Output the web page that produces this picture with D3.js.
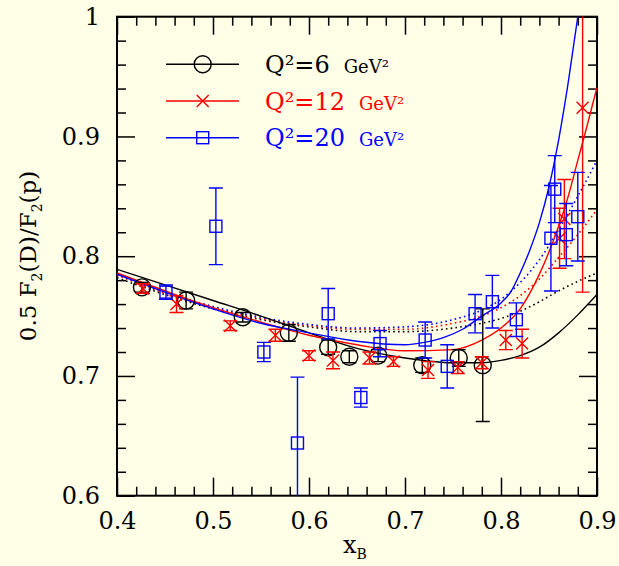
<!DOCTYPE html>
<html><head><meta charset="utf-8">
<script src="https://cdn.jsdelivr.net/npm/d3@7"></script>
<style>html,body{margin:0;padding:0;background:#fffee6;}svg{display:block;}</style>
</head><body>
<script>
// ---- data ----
const q6X   = [0.426,0.472,0.531,0.579,0.620,0.642,0.672,0.718,0.756,0.781];
const q6Y   = [0.774,0.763,0.749,0.736,0.724,0.716,0.717,0.709,0.715,0.709];
const q6E   = [0.004,0.007,0.004,0.007,0.006,0.005,0.005,0.006,0.007,0.047];

const q12X  = [0.427,0.462,0.518,0.565,0.600,0.625,0.663,0.688,0.724,0.755,0.780,0.805,0.822,0.861,0.866,0.885];
const q12Y  = [0.773,0.760,0.742,0.734,0.717,0.713,0.715,0.712,0.705,0.707,0.711,0.730,0.727,0.815,0.831,0.924];
const q12E  = [0.004,0.007,0.004,0.005,0.004,0.007,0.005,0.004,0.007,0.005,0.005,0.008,0.012,0.025,0.033,0.154];

const q20X  = [0.451,0.503,0.553,0.588,0.620,0.654,0.674,0.721,0.744,0.773,0.791,0.816,0.852,0.856,0.868,0.880];
const q20Y  = [0.770,0.825,0.720,0.644,0.752,0.682,0.727,0.730,0.708,0.752,0.762,0.747,0.815,0.856,0.818,0.833];
const q20E  = [0.006,0.032,0.008,0.055,0.021,0.008,0.011,0.015,0.018,0.016,0.022,0.014,0.044,0.028,0.026,0.037];

const solid6X  = [0.40,0.45,0.50,0.55,0.60,0.65,0.70,0.75,0.78,0.80,0.82,0.84,0.86,0.88,0.90];
const solid6Y  = [0.789,0.776,0.763,0.750,0.736,0.723,0.715,0.711,0.711,0.713,0.717,0.724,0.736,0.751,0.768];
const solid12X = [0.40,0.45,0.50,0.55,0.60,0.65,0.70,0.75,0.78,0.80,0.82,0.84,0.86,0.87,0.88,0.89,0.90];
const solid12Y = [0.786,0.771,0.757,0.745,0.734,0.726,0.721,0.722,0.730,0.740,0.756,0.785,0.825,0.850,0.880,0.910,0.941];
const solid20X = [0.40,0.45,0.50,0.55,0.60,0.65,0.70,0.72,0.74,0.76,0.78,0.80,0.81,0.82,0.83,0.84,0.85,0.86,0.87,0.88,0.89];
const solid20Y = [0.785,0.770,0.756,0.744,0.736,0.729,0.726,0.728,0.732,0.739,0.750,0.761,0.770,0.786,0.805,0.828,0.858,0.897,0.945,1.000,1.060];

const dotX     = [0.40,0.45,0.50,0.55,0.60,0.65,0.70,0.75,0.78,0.80,0.82,0.84,0.86,0.88,0.90];
const dot6Y    = [0.782,0.768,0.756,0.747,0.741,0.737,0.737,0.740,0.744,0.748,0.754,0.762,0.771,0.779,0.786];
const dot12Y   = [0.784,0.769,0.757,0.748,0.742,0.739,0.739,0.744,0.750,0.757,0.767,0.781,0.799,0.818,0.839];
const dot20Y   = [0.785,0.770,0.758,0.749,0.743,0.740,0.741,0.747,0.755,0.764,0.778,0.797,0.822,0.850,0.880];

const xTicks = [0.4,0.5,0.6,0.7,0.8,0.9];
const yTicks = [0.6,0.7,0.8,0.9,1.0];
const legendLabels = ["Q²=6", "Q²=12", "Q²=20"];
const legendUnit = "GeV²";

// ---- drawing ----
const W = 619, H = 566;
const svg = d3.select("body").append("svg").attr("width", W).attr("height", H)
  .style("background", "#fffee6");
const x = d3.scaleLinear().domain([0.4, 0.9]).range([117, 597]);
const y = d3.scaleLinear().domain([0.6, 1.0]).range([495.7, 16.7]);
const FONT = "'DejaVu Serif', serif";

svg.append("defs").append("clipPath").attr("id", "clip")
  .append("rect").attr("x", 117).attr("y", 16.7).attr("width", 480).attr("height", 479);

const minorX = d3.range(0.42, 0.9, 0.02).filter(v => Math.abs(v*10 - Math.round(v*10)) > 1e-6);
const minorY = d3.range(0.62, 1.0, 0.02).filter(v => Math.abs(v*10 - Math.round(v*10)) > 1e-6);

function styleAxis(g) {
  g.select(".domain").remove();
  g.selectAll(".tick line").attr("stroke", "#000").attr("stroke-width", 1.5);
  g.selectAll(".tick text").attr("font-family", FONT).attr("font-size", 24).attr("fill", "#000");
}
// bottom
svg.append("g").attr("transform", "translate(0,495.7)")
  .call(d3.axisBottom(x).tickValues(xTicks).tickSize(-18).tickPadding(16).tickFormat(d => d3.format(".1f")(d)))
  .call(styleAxis);
svg.append("g").attr("transform", "translate(0,495.7)")
  .call(d3.axisBottom(x).tickValues(minorX).tickSize(-9).tickFormat("")).call(styleAxis);
// top
svg.append("g").attr("transform", "translate(0,16.7)")
  .call(d3.axisTop(x).tickValues(xTicks).tickSize(-18).tickFormat("")).call(styleAxis);
svg.append("g").attr("transform", "translate(0,16.7)")
  .call(d3.axisTop(x).tickValues(minorX).tickSize(-9).tickFormat("")).call(styleAxis);
// left
svg.append("g").attr("transform", "translate(117,0)")
  .call(d3.axisLeft(y).tickValues(yTicks).tickSize(-18).tickPadding(17).tickFormat(d => d === 1 ? "1" : d3.format(".1f")(d)))
  .call(styleAxis);
svg.append("g").attr("transform", "translate(117,0)")
  .call(d3.axisLeft(y).tickValues(minorY).tickSize(-9).tickFormat("")).call(styleAxis);
// right
svg.append("g").attr("transform", "translate(597,0)")
  .call(d3.axisRight(y).tickValues(yTicks).tickSize(-18).tickFormat("")).call(styleAxis);
svg.append("g").attr("transform", "translate(597,0)")
  .call(d3.axisRight(y).tickValues(minorY).tickSize(-9).tickFormat("")).call(styleAxis);

// frame
svg.append("rect").attr("x", 117).attr("y", 16.7).attr("width", 480).attr("height", 479)
  .attr("fill", "none").attr("stroke", "#000").attr("stroke-width", 2);

const plot = svg.append("g").attr("clip-path", "url(#clip)");
const line = d3.line().x(d => x(d[0])).y(d => y(d[1])).curve(d3.curveMonotoneX);

function drawCurve(xs, ys, color, dotted) {
  plot.append("path").datum(xs.map((v, i) => [v, ys[i]]))
    .attr("d", line).attr("fill", "none").attr("stroke", color)
    .attr("stroke-width", dotted ? 1.6 : 1.4)
    .attr("stroke-dasharray", dotted ? "1.6,3.2" : null);
}
drawCurve(dotX, dot6Y, "#000", true);
drawCurve(dotX, dot12Y, "#f00", true);
drawCurve(dotX, dot20Y, "#00f", true);
drawCurve(solid6X, solid6Y, "#000", false);
drawCurve(solid12X, solid12Y, "#f00", false);
drawCurve(solid20X, solid20Y, "#00f", false);

function marker(g, cx, cy, type, color) {
  if (type === "circle") {
    g.append("circle").attr("cx", cx).attr("cy", cy).attr("r", 8.5)
      .attr("fill", "none").attr("stroke", color).attr("stroke-width", 1.4);
  } else if (type === "x") {
    const s = 6;
    g.append("path").attr("d", `M${cx-s},${cy-s}L${cx+s},${cy+s}M${cx-s},${cy+s}L${cx+s},${cy-s}`)
      .attr("stroke", color).attr("stroke-width", 1.4).attr("fill", "none");
  } else {
    g.append("rect").attr("x", cx-6).attr("y", cy-6).attr("width", 12).attr("height", 12)
      .attr("fill", "none").attr("stroke", color).attr("stroke-width", 1.4);
  }
}
function drawSeries(xs, ys, es, color, type) {
  const g = plot.append("g");
  xs.forEach((xv, i) => {
    const cx = x(xv), cy = y(ys[i]), t = y(ys[i] + es[i]), b = y(ys[i] - es[i]);
    g.append("line").attr("x1", cx).attr("x2", cx).attr("y1", t).attr("y2", b)
      .attr("stroke", color).attr("stroke-width", 1.4);
    [t, b].forEach(yy => g.append("line").attr("x1", cx-7).attr("x2", cx+7).attr("y1", yy).attr("y2", yy)
      .attr("stroke", color).attr("stroke-width", 1.4));
    marker(g, cx, cy, type, color);
  });
}
drawSeries(q6X, q6Y, q6E, "#000", "circle");
drawSeries(q12X, q12Y, q12E, "#f00", "x");
drawSeries(q20X, q20Y, q20E, "#00f", "square");

// legend
const legColors = ["#000", "#f00", "#00f"];
const legTypes = ["circle", "x", "square"];
const legRowY = [64.3, 101, 137.7];
legendLabels.forEach((lab, i) => {
  const ly = legRowY[i];
  svg.append("line").attr("x1", 166).attr("x2", 239).attr("y1", ly).attr("y2", ly)
    .attr("stroke", legColors[i]).attr("stroke-width", 1.4);
  marker(svg, 202.7, ly, legTypes[i], legColors[i]);
  const t = svg.append("text").attr("x", 265).attr("y", ly + 8.5)
    .attr("font-family", FONT).attr("font-size", 24).attr("fill", legColors[i]);
  t.append("tspan").text(lab);
  t.append("tspan").attr("dx", 14).attr("font-size", 18).text(legendUnit);
});

// axis titles
const xt = svg.append("text").attr("x", 343).attr("y", 553)
  .attr("font-family", FONT).attr("font-size", 24).attr("fill", "#000");
xt.append("tspan").text("x");
xt.append("tspan").attr("font-size", 14).attr("dy", 6).text("B");

const yt = svg.append("text").attr("transform", "translate(36,256) rotate(-90)")
  .attr("text-anchor", "middle").attr("font-family", FONT).attr("font-size", 23).attr("fill", "#000");
yt.append("tspan").text("0.5 F");
yt.append("tspan").attr("font-size", 14).attr("dy", 6).text("2");
yt.append("tspan").attr("dy", -6).text("(D)/F");
yt.append("tspan").attr("font-size", 14).attr("dy", 6).text("2");
yt.append("tspan").attr("dy", -6).text("(p)");
</script>
</body></html>
